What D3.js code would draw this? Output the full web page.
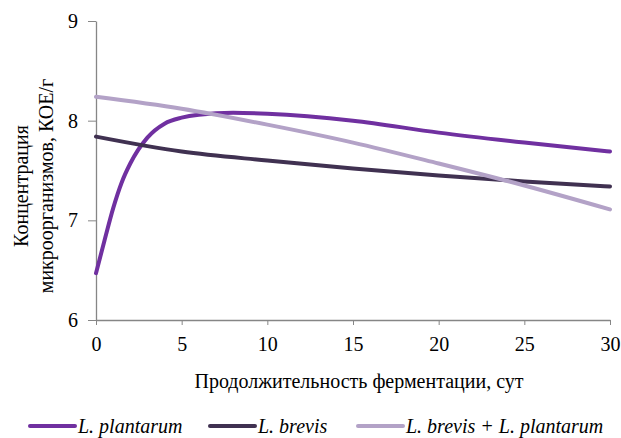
<!DOCTYPE html>
<html>
<head>
<meta charset="utf-8">
<script src="https://cdn.jsdelivr.net/npm/d3@7"></script>
<style>
  body { margin: 0; background: #fff; }
  .axis path, .axis line { stroke: #868686; }
</style>
</head>
<body>
<div id="chart"></div>
<script>
// days of fermentation and concentration (log CFU/g)
const plantarumDays = [0, 0.5, 1, 1.5, 2, 3, 4, 5, 6, 8, 10, 15, 20, 25, 30];
const plantarumValues = [6.47, 6.80, 7.12, 7.38, 7.57, 7.83, 7.97, 8.03, 8.06, 8.08, 8.07, 8.00, 7.88, 7.78, 7.69];
const brevisDays = [0, 5, 10, 15, 20, 25, 30];
const brevisValues = [7.84, 7.69, 7.60, 7.52, 7.45, 7.39, 7.34];
const mixDays = [0, 5, 10, 15, 20, 25, 30];
const mixValues = [8.24, 8.12, 7.96, 7.78, 7.57, 7.35, 7.11];
const xTicks = [0, 5, 10, 15, 20, 25, 30];
const yTicks = [6, 7, 8, 9];

const series = [
  { name: 'L. plantarum', color: '#7030a0', days: plantarumDays, values: plantarumValues },
  { name: 'L. brevis', color: '#403151', days: brevisDays, values: brevisValues },
  { name: 'L. brevis + L. plantarum', color: '#b3a2c7', days: mixDays, values: mixValues },
];

const FONT = "'Liberation Serif', 'Times New Roman', serif";
const width = 621, height = 438;
const margin = { top: 21, right: 11, bottom: 118, left: 96 };

const svg = d3.select('#chart').append('svg')
  .attr('width', width)
  .attr('height', height)
  .style('font-family', FONT);

const x = d3.scaleLinear().domain([0, 30]).range([margin.left, width - margin.right]);
const y = d3.scaleLinear().domain([6, 9]).range([height - margin.bottom, margin.top]);

// axes
const xAxis = svg.append('g')
  .attr('class', 'axis x')
  .attr('transform', 'translate(0,' + (height - margin.bottom) + ')')
  .call(d3.axisBottom(x).tickValues(xTicks).tickSize(5).tickPadding(12).tickSizeOuter(0));

const yAxis = svg.append('g')
  .attr('class', 'axis y')
  .attr('transform', 'translate(' + margin.left + ',0)')
  .call(d3.axisLeft(y).tickValues(yTicks).tickFormat(d3.format('d')).tickSize(8).tickPadding(10).tickSizeOuter(0));

[xAxis, yAxis].forEach(g => {
  g.attr('font-family', FONT).attr('font-size', 20);
  g.selectAll('text').attr('fill', '#000');
  g.select('.domain').attr('stroke-width', 1.3);
});

// lines
const line = d3.line()
  .x(d => x(d[0]))
  .y(d => y(d[1]))
  .curve(d3.curveMonotoneX);

series.forEach(s => {
  svg.append('path')
    .datum(s.days.map((d, i) => [d, s.values[i]]))
    .attr('fill', 'none')
    .attr('stroke', s.color)
    .attr('stroke-width', 4)
    .attr('stroke-linecap', 'round')
    .attr('d', line);
});

// axis titles
svg.append('text')
  .attr('x', (margin.left + width - margin.right) / 2 + 6)
  .attr('y', 388)
  .attr('text-anchor', 'middle')
  .style('font-size', '20px')
  .text('Продолжительность ферментации, сут');

const yTitle = svg.append('text')
  .attr('transform', 'translate(28,186) rotate(-90)')
  .attr('text-anchor', 'middle')
  .style('font-size', '20px');
yTitle.append('tspan').attr('x', 0).attr('dy', 0).text('Концентрация');
yTitle.append('tspan').attr('x', 0).attr('dy', 25).text('микроорганизмов, КОЕ/г');

// legend
const legendX = [30, 210, 358];
const legend = svg.append('g').attr('transform', 'translate(0,426)');
series.forEach((s, i) => {
  legend.append('line')
    .attr('x1', legendX[i]).attr('x2', legendX[i] + 45)
    .attr('y1', 0).attr('y2', 0)
    .attr('stroke', s.color)
    .attr('stroke-width', 4)
    .attr('stroke-linecap', 'round');
  legend.append('text')
    .attr('x', legendX[i] + 48)
    .attr('y', 7)
    .style('font-size', '20px')
    .style('font-style', 'italic')
    .text(s.name);
});
</script>
</body>
</html>
